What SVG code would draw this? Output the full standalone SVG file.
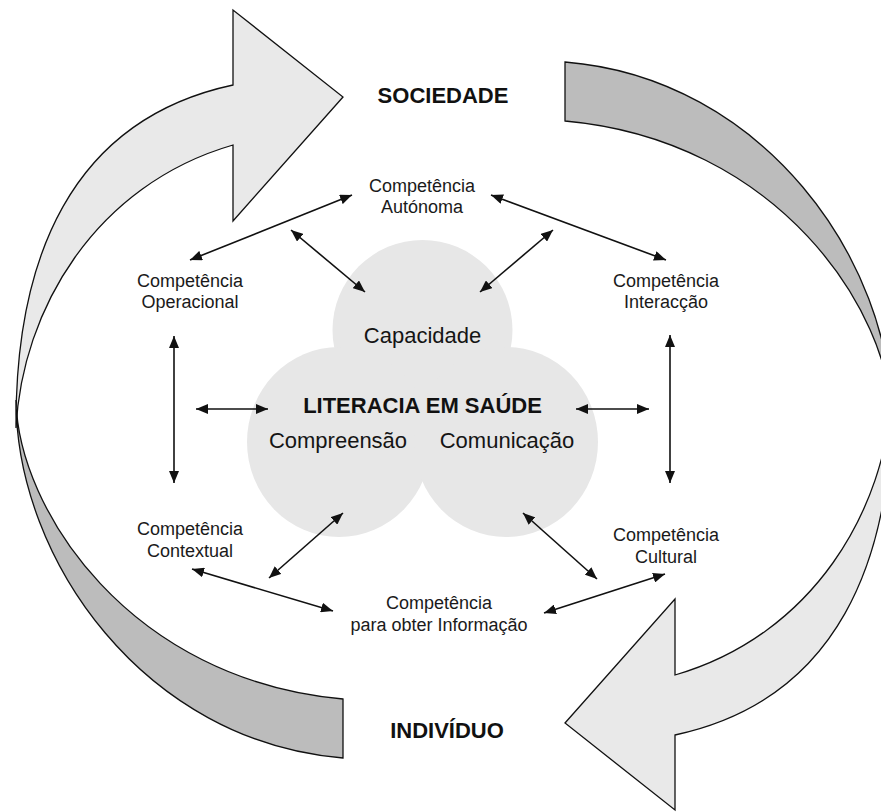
<svg xmlns="http://www.w3.org/2000/svg" width="881" height="812" viewBox="0 0 881 812">
<defs>
<style>
.lbl{font-family:"Liberation Sans",Arial,Helvetica,sans-serif;font-size:18px;fill:#1a1a1a;text-anchor:middle}
.mid{font-family:"Liberation Sans",Arial,Helvetica,sans-serif;font-size:22px;fill:#151515;text-anchor:middle}
.big{font-family:"Liberation Sans",Arial,Helvetica,sans-serif;font-size:22px;font-weight:bold;fill:#111;text-anchor:middle}
.band{fill:#bcbcbc;stroke:#111;stroke-width:1.3}
.ashape{fill:#e9e9e9;stroke:#111;stroke-width:1.3}
.lobe{fill:#e7e7e7}
.con{stroke:#111;stroke-width:1.6;fill:none;marker-start:url(#ah);marker-end:url(#ah)}
</style>
<marker id="ah" markerWidth="12" markerHeight="10" refX="12" refY="5" orient="auto-start-reverse" markerUnits="userSpaceOnUse" viewBox="0 0 12 10"><path d="M0,0 L12,5 L0,10 z" fill="#111"/></marker>
<path id="lightArrow" d="M16,428 C15,260 70,120 233,85 L233,10 L343,97 L233,221 L233,145 C95,185 22,310 16,428 Z"/>
<path id="darkBand" d="M16,400 C16,560 145,742 343,758 L343,699 C130,680 18,510 16,400 Z"/>
</defs>
<rect width="881" height="812" fill="#fff"/>
<g id="cycle">
<use href="#darkBand" class="band"/>
<use href="#darkBand" class="band" transform="rotate(180 454 410)"/>
<use href="#lightArrow" class="ashape"/>
<use href="#lightArrow" class="ashape" transform="rotate(180 454 410)"/>
</g>
<g id="sociedade"><text class="big" x="443" y="103">SOCIEDADE</text></g>
<g id="individuo"><text class="big" x="447" y="738">INDIVÍDUO</text></g>
<g id="literacia">
<circle class="lobe" cx="422.5" cy="330" r="90"/>
<ellipse class="lobe" cx="339" cy="442" rx="92" ry="95"/>
<ellipse class="lobe" cx="506" cy="442" rx="92" ry="95"/>
<text class="mid" x="422.5" y="343">Capacidade</text>
<text class="big" x="422.5" y="413">LITERACIA EM SAÚDE</text>
<text class="mid" x="338" y="448">Compreensão</text>
<text class="mid" x="507" y="448">Comunicação</text>
</g>
<g id="autonoma"><text class="lbl" x="422" y="192">Competência</text><text class="lbl" x="422" y="213">Autónoma</text></g>
<g id="operacional"><text class="lbl" x="190" y="287">Competência</text><text class="lbl" x="190" y="308">Operacional</text></g>
<g id="interaccao"><text class="lbl" x="666" y="287">Competência</text><text class="lbl" x="666" y="308">Interacção</text></g>
<g id="contextual"><text class="lbl" x="190" y="535">Competência</text><text class="lbl" x="190" y="557">Contextual</text></g>
<g id="cultural"><text class="lbl" x="666" y="541">Competência</text><text class="lbl" x="666" y="563">Cultural</text></g>
<g id="informacao"><text class="lbl" x="439" y="609">Competência</text><text class="lbl" x="439" y="631">para obter Informação</text></g>
<g id="connectors">
<line class="con" x1="352" y1="195" x2="190" y2="260"/>
<line class="con" x1="491" y1="195" x2="666" y2="260"/>
<line class="con" x1="291" y1="230" x2="365" y2="292"/>
<line class="con" x1="553" y1="230" x2="480" y2="292"/>
<line class="con" x1="174" y1="336" x2="174" y2="483"/>
<line class="con" x1="670" y1="335" x2="670" y2="483"/>
<line class="con" x1="196" y1="409" x2="268" y2="409"/>
<line class="con" x1="576" y1="409" x2="649" y2="409"/>
<line class="con" x1="343" y1="513" x2="269" y2="578"/>
<line class="con" x1="523" y1="513" x2="597" y2="579"/>
<line class="con" x1="192" y1="569" x2="333" y2="611"/>
<line class="con" x1="665" y1="574" x2="544" y2="613"/>
</g>
</svg>
